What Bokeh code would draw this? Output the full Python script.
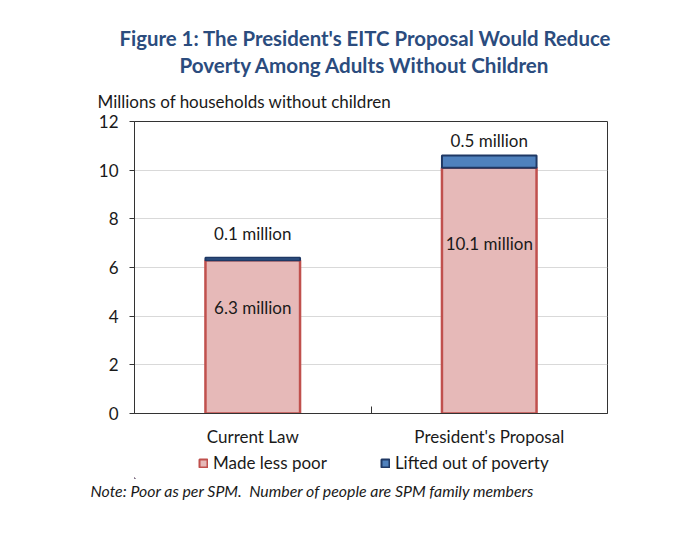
from bokeh.plotting import figure
from bokeh.layouts import column
from bokeh.models import (FixedTicker, Title, Legend, LegendItem, ColumnDataSource, Range1d)
from bokeh.core.properties import value
from bokeh.embed import file_html
from bokeh.resources import INLINE

categories = ["Current Law", "President's Proposal"]
made_less_poor = [6.3, 10.1]
lifted_out = [0.1, 0.5]
made_labels = ["6.3 million", "10.1 million"]
lifted_labels = ["0.1 million", "0.5 million"]
series_names = ["Made less poor", "Lifted out of poverty"]
y_ticks = [0, 2, 4, 6, 8, 10, 12]

FONT = "Lato"
TXT = "#1a1a1a"
PINK, RED = "#E6B9B8", "#C0504D"
BLUE, NAVY = "#4F81BD", "#1F3864"
TITLE_C = "#2B4C7E"

xpos = [i + 0.5 for i in range(len(categories))]
tops = [m + l for m, l in zip(made_less_poor, lifted_out)]

src = ColumnDataSource(dict(
    x=xpos, made=made_less_poor, top=tops,
    made_lab=made_labels, lift_lab=lifted_labels,
    made_lab_y=[m * 0.69 for m in made_less_poor],
    lift_off=[-24, -15],
))

p = figure(width=693, height=450, frame_width=473, frame_height=292,
           output_backend="svg", toolbar_location=None,
           x_range=Range1d(0, len(categories)), y_range=Range1d(0, 12),
           min_border_left=134, min_border_right=86, min_border_top=121, min_border_bottom=37)

r1 = p.vbar(x="x", bottom=0, top="made", width=0.4, source=src,
            fill_color=PINK, line_color=RED, line_width=2.5)
r2 = p.vbar(x="x", bottom="made", top="top", width=0.4, source=src,
            fill_color=BLUE, line_color=NAVY, line_width=2)

p.text(x="x", y="made_lab_y", text="made_lab", source=src, text_align="center",
       text_baseline="middle", text_font=value(FONT), text_font_size="17px", text_color=TXT)
p.text(x="x", y="top", text="lift_lab", source=src, text_align="center",
       text_baseline="middle", y_offset="lift_off", text_font=value(FONT),
       text_font_size="17px", text_color=TXT)

xa = p.xaxis[0]
xa.ticker = FixedTicker(ticks=xpos, minor_ticks=[1])
xa.major_label_overrides = {x: c for x, c in zip(xpos, categories)}
xa.major_tick_line_color = None
xa.minor_tick_line_color = "#333333"
xa.minor_tick_in = 7
xa.minor_tick_out = 0
xa.axis_line_color = "#333333"
xa.major_label_text_font = FONT
xa.major_label_text_font_size = "17px"
xa.major_label_text_color = TXT
xa.major_label_standoff = 6

ya = p.yaxis[0]
ya.ticker = FixedTicker(ticks=y_ticks)
ya.major_tick_out = 5
ya.major_tick_in = 0
ya.minor_tick_line_color = None
ya.axis_line_color = "#333333"
ya.major_tick_line_color = "#333333"
ya.major_label_text_font = FONT
ya.major_label_text_font_size = "17px"
ya.major_label_text_color = TXT
ya.major_label_standoff = 11

p.xgrid.grid_line_color = None
p.ygrid.grid_line_color = "#D9D9D9"
p.ygrid.ticker = FixedTicker(ticks=y_ticks)
p.outline_line_color = "#333333"
p.outline_line_width = 1

ylab = Title(text="Millions of households without children", align="left", offset=-37,
             text_font=FONT, text_font_size="17px", text_font_style="normal",
             text_color=TXT, standoff=20)
p.add_layout(ylab, "above")
t2 = Title(text="Poverty Among Adults Without Children", align="left", offset=45,
           text_font=FONT, text_font_size="20.6px", text_font_style="bold",
           text_color=TITLE_C, standoff=3)
p.add_layout(t2, "above")
t1 = Title(text="Figure 1: The President's EITC Proposal Would Reduce", align="left", offset=-15,
           text_font=FONT, text_font_size="20.4px", text_font_style="bold",
           text_color=TITLE_C, standoff=0)
p.add_layout(t1, "above")

# legend + note strip
q = figure(width=693, height=90, frame_width=693, frame_height=28,
           output_backend="svg", toolbar_location=None,
           x_axis_location=None, y_axis_location=None,
           x_range=Range1d(3, 4), y_range=Range1d(20, 21),
           min_border_left=0, min_border_right=0, min_border_top=0, min_border_bottom=62)
q.xgrid.grid_line_color = None
q.ygrid.grid_line_color = None
q.outline_line_color = None
# legend proxies (same data, kept outside the strip's visible range)
lr1 = q.vbar(x="x", bottom=0, top="made", width=0.4, source=src,
             fill_color=PINK, line_color=RED, line_width=2)
lr2 = q.vbar(x="x", bottom="made", top="top", width=0.4, source=src,
             fill_color=BLUE, line_color=NAVY, line_width=2)
legend = Legend(items=[LegendItem(label=series_names[0], renderers=[lr1]),
                       LegendItem(label=series_names[1], renderers=[lr2])],
                orientation="horizontal", location=(198, 5),
                glyph_width=10, glyph_height=10, label_standoff=5, spacing=53,
                label_text_font=FONT, label_text_font_size="17px", label_text_color=TXT,
                border_line_color=None, padding=0, margin=0, background_fill_alpha=0)
q.add_layout(legend, "center")

note = Title(text="Note: Poor as per SPM.\u00a0 Number of people are SPM family members",
             align="left", offset=-44, text_font=FONT, text_font_size="15.9px",
             text_font_style="italic", text_color=TXT, standoff=0)
q.add_layout(note, "below")

open("out.html", "w").write(file_html(column(p, q, spacing=0), INLINE))
